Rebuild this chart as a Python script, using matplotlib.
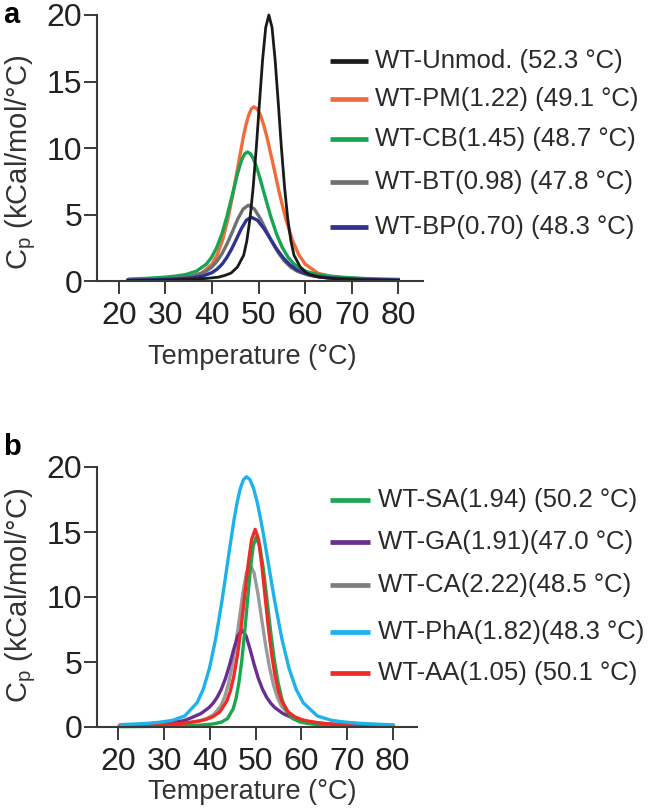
"""
DSC thermograms (Cp vs temperature) for WT and modified variants, panels a and b.
"""
import matplotlib
matplotlib.use('Agg')
import matplotlib.pyplot as plt
from matplotlib.lines import Line2D

plt.rcParams['font.family'] = ['Liberation Sans', 'DejaVu Sans']
plt.rcParams['mathtext.fontset'] = 'custom'
plt.rcParams['mathtext.rm'] = 'Liberation Sans'
plt.rcParams['mathtext.it'] = 'Liberation Sans:italic'

# ---- panel a: Cp traces ----
UNMOD_T = [22.0, 25.2, 30.6, 36.0, 38.7, 41.4, 42.75, 44.1, 45.45, 46.8, 47.48,
           48.15, 48.83, 49.5, 50.18, 50.85, 51.53, 52.2, 52.88, 53.55, 54.23,
           54.9, 55.58, 56.25, 56.93, 57.6, 58.95, 60.3, 61.65, 63.0, 65.7,
           68.4, 73.8, 80.0]
UNMOD_CP = [0.04, 0.05, 0.08, 0.14, 0.19, 0.29, 0.42, 0.6, 1.05, 1.94, 3.03,
            4.69, 7.03, 10.0, 13.36, 16.61, 19.07, 20.0, 19.07, 16.61, 13.36,
            10.0, 7.03, 4.69, 3.03, 1.94, 1.05, 0.6, 0.42, 0.29, 0.19,
            0.14, 0.08, 0.05]

PM_T = [22.0, 26.5, 31.0, 33.25, 35.5, 37.75, 40.0, 41.13, 42.25, 43.38,
        44.5, 45.63, 46.75, 47.31, 47.88, 48.44, 49.0, 49.69, 50.38, 51.06,
        51.75, 53.13, 54.5, 55.88, 57.25, 58.63, 60.0, 62.75, 65.5, 68.25,
        71.0, 76.5, 80.0]
PM_CP = [0.09, 0.13, 0.19, 0.25, 0.35, 0.58, 1.27, 1.98, 3.07, 4.61,
         6.55, 8.75, 10.88, 11.78, 12.49, 12.94, 13.1, 12.94, 12.49, 11.78,
         10.88, 8.75, 6.55, 4.61, 3.07, 1.98, 1.27, 0.58, 0.35, 0.25,
         0.19, 0.13, 0.1]

CB_T = [22.4, 25.6, 30.0, 32.2, 34.4, 36.6, 38.8, 39.9, 41.0, 42.1, 43.2,
        44.3, 45.4, 45.95, 46.5, 47.05, 47.6, 48.23, 48.85, 49.48, 50.1,
        51.35, 52.6, 53.85, 55.1, 56.35, 57.6, 60.1, 62.6, 65.1, 67.6,
        72.6, 77.6, 80.0]
CB_CP = [0.15, 0.19, 0.29, 0.37, 0.49, 0.73, 1.27, 1.78, 2.51, 3.53, 4.85,
         6.39, 7.96, 8.65, 9.21, 9.57, 9.7, 9.57, 9.21, 8.65, 7.96,
         6.39, 4.85, 3.53, 2.51, 1.78, 1.27, 0.73, 0.49, 0.37, 0.29,
         0.19, 0.13, 0.12]

BT_T = [22.0, 25.3, 29.8, 32.05, 34.3, 36.55, 38.8, 39.93, 41.05, 42.18,
        43.3, 44.43, 45.55, 46.68, 47.8, 49.1, 50.4, 51.7, 53.0, 54.3,
        55.6, 56.9, 58.2, 60.8, 63.4, 66.0, 68.6, 73.8, 80.0]
BT_CP = [0.08, 0.11, 0.17, 0.22, 0.29, 0.43, 0.75, 1.04, 1.48, 2.08,
         2.85, 3.75, 4.68, 5.41, 5.7, 5.41, 4.68, 3.75, 2.85, 2.08,
         1.48, 1.04, 0.75, 0.43, 0.29, 0.22, 0.17, 0.11, 0.08]

BP_T = [22.0, 27.4, 31.6, 33.7, 35.8, 37.9, 40.0, 41.05, 42.1, 43.15, 44.2,
        45.25, 46.3, 47.35, 48.4, 49.78, 51.15, 52.53, 53.9, 55.28, 56.65,
        58.03, 59.4, 62.15, 64.9, 67.65, 70.4, 75.9, 80.0]
BP_CP = [0.06, 0.09, 0.14, 0.18, 0.24, 0.36, 0.63, 0.88, 1.24, 1.75, 2.4,
         3.16, 3.94, 4.56, 4.8, 4.56, 3.94, 3.16, 2.4, 1.75, 1.24,
         0.88, 0.63, 0.36, 0.24, 0.18, 0.14, 0.09, 0.07]

# ---- panel b ----
SA_T = [20.5, 25.1, 30.1, 35.1, 37.6, 40.1, 41.35, 42.6, 43.85, 45.1, 45.73,
        46.35, 46.98, 47.6, 48.23, 48.85, 49.48, 50.1, 50.9, 51.7, 52.5,
        53.3, 54.1, 54.9, 55.7, 56.5, 58.1, 59.7, 61.3, 62.9, 66.1, 69.3,
        75.7, 80.0]
SA_CP = [0.03, 0.04, 0.06, 0.1, 0.14, 0.21, 0.28, 0.39, 0.65, 1.41, 2.21,
         3.43, 5.13, 7.3, 9.75, 12.13, 13.92, 14.6, 13.92, 12.13, 9.75,
         7.3, 5.13, 3.43, 2.21, 1.41, 0.65, 0.39, 0.28, 0.21, 0.14, 0.1,
         0.06, 0.05]

GA_T = [20.5, 25.4, 29.0, 32.6, 34.4, 36.2, 38.0, 39.8, 40.7, 41.6, 42.5,
        43.4, 44.3, 45.2, 46.1, 47.0, 47.9, 48.8, 49.7, 50.6, 51.5, 52.4,
        53.3, 54.2, 56.0, 57.8, 59.6, 61.4, 65.0, 68.6, 75.8, 80.0]
GA_CP = [0.09, 0.16, 0.24, 0.38, 0.5, 0.75, 1.03, 1.49, 1.83, 2.29,
         2.91, 3.73, 4.77, 5.96, 7.01, 7.45, 7.01, 5.96, 4.77, 3.73, 2.91,
         2.29, 1.83, 1.49, 1.03, 0.75, 0.5, 0.38, 0.24, 0.16, 0.09, 0.07]

CA_T = [20.5, 23.2, 29.6, 32.8, 36.0, 37.6, 39.2, 40.8, 42.4, 43.2, 44.0,
        44.8, 45.6, 46.4, 47.2, 48.0, 48.8, 49.65, 50.5, 51.35, 52.2, 53.05,
        53.9, 54.75, 55.6, 57.3, 59.0, 60.7, 62.4, 65.8, 69.2, 76.0, 80.0]
CA_CP = [0.09, 0.1, 0.17, 0.24, 0.37, 0.47, 0.64, 0.94, 1.64, 2.29, 3.24,
         4.56, 6.25, 8.23, 10.26, 11.87, 12.5, 11.87, 10.26, 8.23, 6.25, 4.56,
         3.24, 2.29, 1.64, 0.94, 0.64, 0.47, 0.37, 0.24, 0.17, 0.1, 0.09]

PHA_T = [20.5, 26.4, 29.1, 31.8, 34.5, 37.2, 38.55, 39.9, 41.25, 42.6, 43.28,
         43.95, 44.63, 45.3, 45.98, 46.65, 47.33, 48.0, 48.78, 49.55, 50.33,
         51.1, 51.88, 52.65, 53.43, 54.2, 55.75, 57.3, 58.85, 60.4, 63.5,
         66.6, 69.7, 72.8, 79.0, 80.0]
PHA_CP = [0.18, 0.28, 0.37, 0.51, 0.85, 1.87, 2.91, 4.52, 6.77, 9.63, 11.22,
          12.86, 14.47, 15.99, 17.32, 18.35, 19.02, 19.25, 19.02, 18.35, 17.32,
          15.99, 14.47, 12.86, 11.22, 9.63, 6.77, 4.52, 2.91, 1.87, 0.85,
          0.51, 0.37, 0.28, 0.18, 0.17]

AA_T = [20.2, 25.1, 31.3, 34.4, 37.5, 39.05, 40.6, 42.15, 43.7, 44.48, 45.25,
        46.03, 46.8, 47.58, 48.35, 49.13, 49.9, 50.63, 51.35, 52.08, 52.8,
        53.53, 54.25, 54.98, 55.7, 57.15, 58.6, 60.05, 61.5, 64.4, 67.3,
        73.1, 80.0]
AA_CP = [0.08, 0.12, 0.21, 0.29, 0.45, 0.57, 0.78, 1.15, 2.0, 2.78, 3.94,
         5.54, 7.6, 10.01, 12.47, 14.43, 15.2, 14.43, 12.47, 10.01, 7.6,
         5.54, 3.94, 2.78, 2.0, 1.15, 0.78, 0.57, 0.45, 0.29, 0.21,
         0.12, 0.08]

LABELS_A = ['WT-Unmod. (52.3 °C)', 'WT-PM(1.22) (49.1 °C)', 'WT-CB(1.45) (48.7 °C)',
            'WT-BT(0.98) (47.8 °C)', 'WT-BP(0.70) (48.3 °C)']
LABELS_B = ['WT-SA(1.94) (50.2 °C)', 'WT-GA(1.91)(47.0 °C)', 'WT-CA(2.22)(48.5 °C)',
            'WT-PhA(1.82)(48.3 °C)', 'WT-AA(1.05) (50.1 °C)']

X_TICKS = [20, 30, 40, 50, 60, 70, 80]
Y_TICKS = [0, 5, 10, 15, 20]

W, H = 650, 810
AXCOL = '#3a3a3a'


def fx(px):
    return px / W


def fy(py):
    return 1 - py / H


def style_axis(ax, bottom_px, top_px, right_px, ylab_y, xlab_gap):
    ax.set_position([fx(97), fy(bottom_px), fx(right_px) - fx(97),
                     fy(top_px) - fy(bottom_px)])
    width_px = right_px - 97
    height_px = bottom_px - top_px
    ax.set_xlim(15.3, 85.3)
    ax.set_ylim(0, 20)
    ax.set_xticks(X_TICKS)
    ax.set_yticks(Y_TICKS)
    for s in ['top', 'right']:
        ax.spines[s].set_visible(False)
    for s in ['left', 'bottom']:
        ax.spines[s].set_linewidth(1.5)
        ax.spines[s].set_color(AXCOL)
    ax.tick_params(direction='out', length=9.5, width=1.4, color=AXCOL,
                   labelsize=23, labelcolor='#222222')
    ax.tick_params(axis='y', pad=1)
    ax.tick_params(axis='x', pad=5)
    ax.set_xlabel('Temperature (°C)', fontsize=19.5, color='#333333')
    ax.set_ylabel(r'C$_{\rm p}$ (kCal/mol/°C)', fontsize=21, color='#333333')
    ax.yaxis.set_label_coords((38 - 97) / width_px, ylab_y)
    ax.xaxis.set_label_coords((252 - 97) / width_px, -xlab_gap / height_px)


def add_legend(fig, colors, labels, rows_px, x0, x1, xt):
    for c, lab, y in zip(colors, labels, rows_px):
        fig.add_artist(Line2D([fx(x0), fx(x1)], [fy(y), fy(y)], color=c,
                              lw=3.4, transform=fig.transFigure,
                              solid_capstyle='butt'))
        fig.text(fx(xt), fy(y), lab, fontsize=18.5, color='#2a2a2a',
                 va='center', ha='left')


fig = plt.figure(figsize=(W / 100, H / 100), dpi=100)

# panel a
ax_a = fig.add_axes([0.1, 0.6, 0.5, 0.3])
colors_a = ['#1a1a1a', '#f26b3a', '#17a551', '#707070', '#2f3193']
series_a = [(PM_T, PM_CP, colors_a[1]), (CB_T, CB_CP, colors_a[2]),
            (BT_T, BT_CP, colors_a[3]), (BP_T, BP_CP, colors_a[4]),
            (UNMOD_T, UNMOD_CP, colors_a[0])]
for t, cp, c in series_a:
    lw = 2.0 if c == colors_a[0] else 2.4
    ax_a.plot(t, cp, color=c, lw=lw, clip_on=False)
style_axis(ax_a, 281, 15, 423, 0.445, 63)
add_legend(fig, colors_a, LABELS_A, [61, 99, 139, 182, 227], 330, 368, 375)
fig.text(fx(3), fy(1), 'a', fontsize=21, fontweight='bold', va='top')

# panel b
ax_b = fig.add_axes([0.1, 0.1, 0.5, 0.3])
colors_b = ['#1aa84f', '#6a2d91', '#7d7d7d', '#1bb3e9', '#ee2b24']
series_b = [(CA_T, CA_CP, '#9a9a9a'), (GA_T, GA_CP, colors_b[1]),
            (SA_T, SA_CP, colors_b[0]), (AA_T, AA_CP, colors_b[4]),
            (PHA_T, PHA_CP, colors_b[3])]
for t, cp, c in series_b:
    ax_b.plot(t, cp, color=c, lw=2.4, clip_on=False)
style_axis(ax_b, 727, 467, 417, 0.505, 52)
add_legend(fig, colors_b, LABELS_B, [500, 542, 585, 632, 673], 330, 370, 378)
fig.text(fx(3), fy(433), 'b', fontsize=21, fontweight='bold', va='top')

fig.savefig('out.png', dpi=100)
plt.close(fig)
